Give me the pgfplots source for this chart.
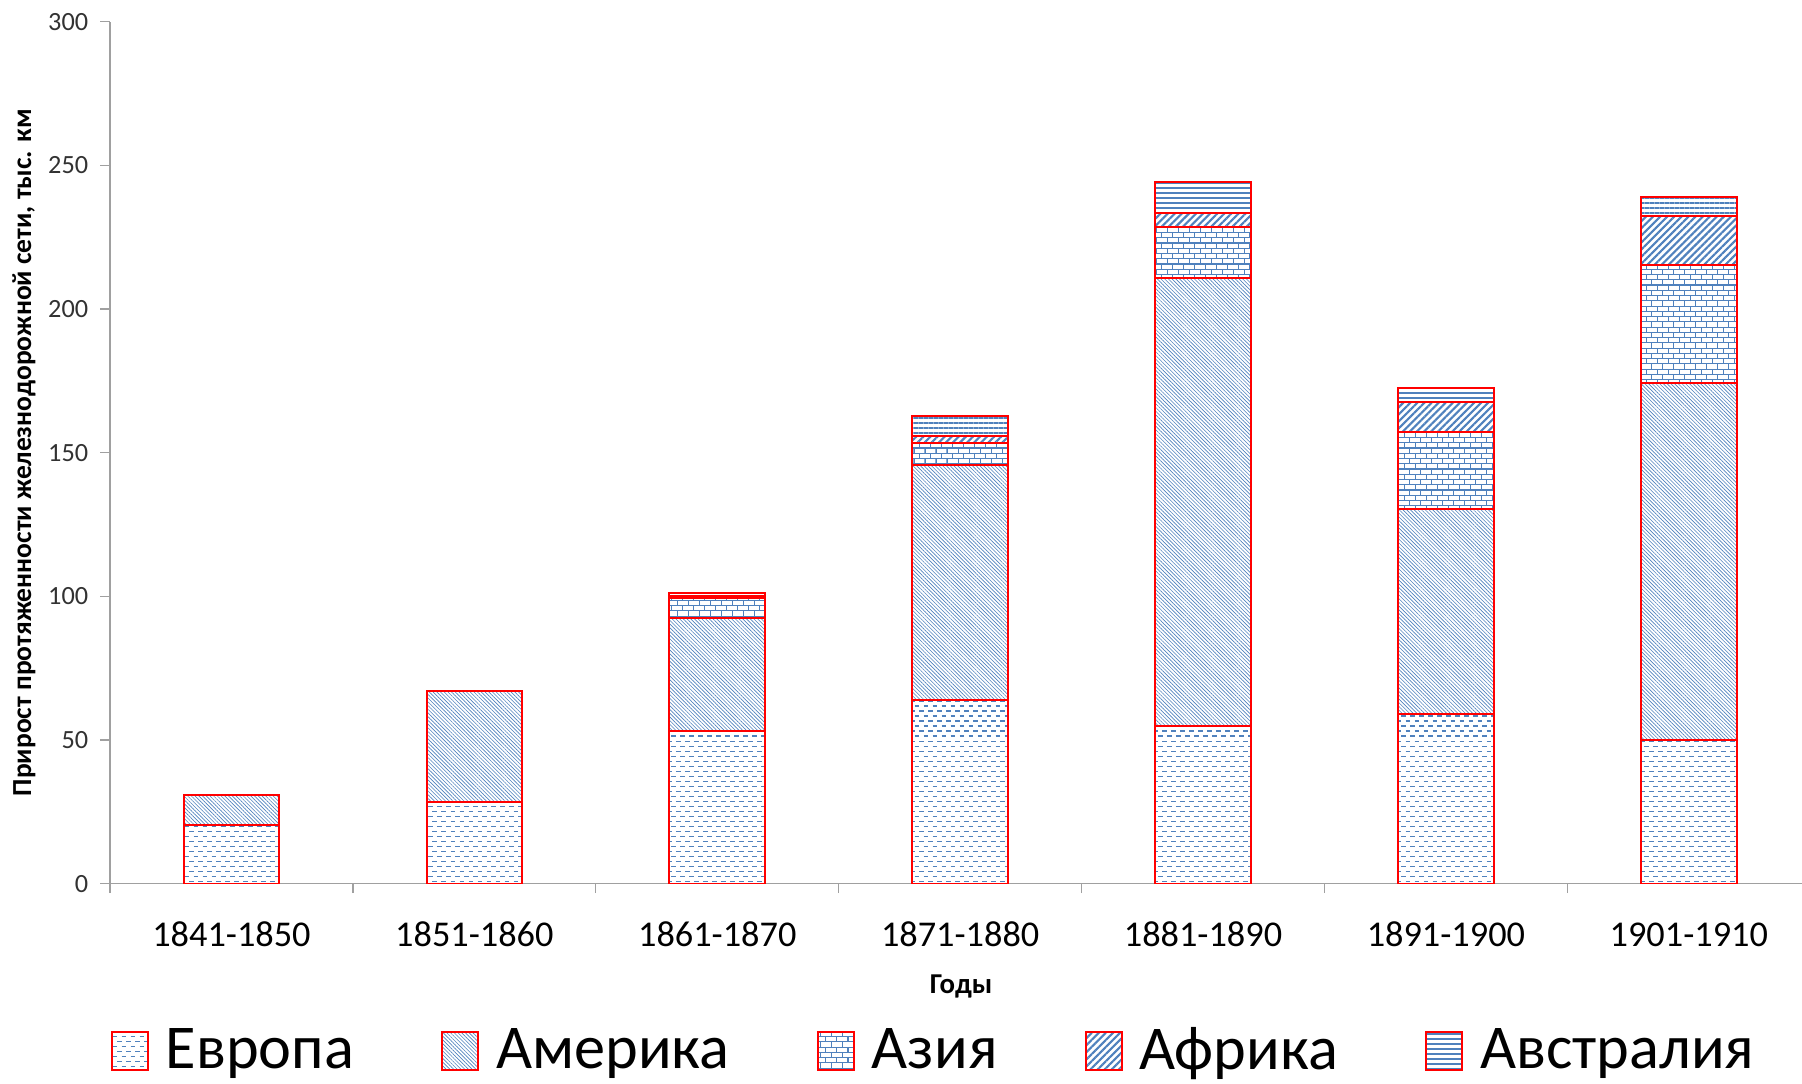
\documentclass[border=0pt]{standalone}
\usepackage{fontspec}
\setmainfont{Carlito}
\usepackage{pgfplots}
\pgfplotsset{compat=1.18}
\usetikzlibrary{patterns.meta}
\definecolor{pblue}{RGB}{79,129,189}
\definecolor{axgray}{RGB}{160,160,160}
\definecolor{tickc}{RGB}{50,50,50}

\tikzdeclarepattern{
  name=eudash,
  type=uncolored,
  bounding box={(-0.3pt,-0.3pt) and (4.0pt,4.3pt)},
  tile size={(3.6pt,4pt)},
  code={
    \draw[line width=0.45pt] (0,1pt) -- (1.9pt,1pt);
    \draw[line width=0.45pt] (1.8pt,3pt) -- (3.7pt,3pt);
  }
}
\tikzdeclarepattern{
  name=mybricks,
  type=uncolored,
  bounding box={(-0.3pt,-0.3pt) and (4.7pt,4.5pt)},
  tile size={(4.4pt,4.2pt)},
  code={
    \draw[line width=0.45pt] (0,0) -- (4.4pt,0) (0,2.1pt) -- (4.4pt,2.1pt)
      (0,0) -- (0,2.1pt) (2.2pt,2.1pt) -- (2.2pt,4.2pt);
  }
}

\pgfplotsset{
  seg/.style={draw=red, line width=0.8pt, pattern color=pblue,
    legend image code/.code={\draw[##1] (0pt,-7.6pt) rectangle (14.4pt,7.6pt);}},
}

\begin{document}
\begin{tikzpicture}
\path[use as bounding box] (0,0) rectangle (720pt,433.1pt);
\begin{axis}[
  at={(43.95pt,80.06pt)}, anchor=south west,
  scale only axis, width=676.05pt, height=344.3pt,
  ybar stacked, bar width=38.15pt,
  xmin=-0.5, xmax=6.466, ymin=0, ymax=300,
  axis x line*=bottom, axis y line*=left,
  axis line style={draw=axgray, line width=0.5pt},
  tick style={draw=axgray, line width=0.5pt},
  tick align=outside, major tick length=3.8pt,
  ytick={0,50,...,300},
  /pgf/number format/assume math mode=true,
  yticklabel style={font=\fontsize{10.5}{12}\selectfont, text=tickc, xshift=-1.4pt},
  xtick={-0.5,0.5,1.5,2.5,3.5,4.5,5.5},
  xticklabels={},
  extra x ticks={0,1,2,3,4,5,6},
  extra x tick labels={1841-1850,1851-1860,1861-1870,1871-1880,1881-1890,1891-1900,1901-1910},
  extra x tick style={major tick length=0pt,
    tick label style={font=\fontsize{14.5}{16}\selectfont, text=black, anchor=center, yshift=-20.4pt}},
  xlabel={Годы},
  xlabel style={font=\bfseries\fontsize{11.5}{13}\selectfont, at={(axis description cs:0.503,-0.1193)}, anchor=center},
  ylabel={Прирост протяженности железнодорожной сети, тыс. км},
  ylabel style={font=\bfseries\fontsize{11}{13}\selectfont, at={(axis description cs:-0.0508,0.5)}, anchor=center},
  legend columns=5,
  legend style={draw=none, fill=none, inner sep=0pt, outer sep=0pt,
    at={(axis description cs:0.0005,-0.194)}, anchor=west,
    font=\fontsize{24.9}{28}\selectfont,
    /tikz/every odd column/.append style={column sep=4.8pt},
    /tikz/every even column/.append style={column sep=32.8pt}},
]
\addplot[seg, pattern=eudash] coordinates {(0,20.5) (1,28.4) (2,53.2) (3,64.0) (4,54.8) (5,59.2) (6,50.0)};
\addplot[seg, pattern={Lines[angle=-45,distance=1.05pt,line width=0.25pt]}] coordinates {(0,10.5) (1,38.8) (2,39.2) (3,81.7) (4,156.2) (5,71.2) (6,124.1)};
\addplot[seg, pattern=mybricks] coordinates {(0,0) (1,0) (2,7.0) (3,7.8) (4,17.6) (5,26.7) (6,41.2)};
\addplot[seg, pattern={Lines[angle=45,distance=2pt,line width=0.85pt]}] coordinates {(0,0) (1,0) (2,0.8) (3,2.3) (4,4.9) (5,10.5) (6,17.2)};
\addplot[seg, pattern={Lines[angle=0,distance=2pt,line width=0.8pt]}] coordinates {(0,0) (1,0) (2,0.8) (3,7.1) (4,10.6) (5,5.1) (6,6.6)};
\legend{Европа,Америка,Азия,Африка,Австралия}
\end{axis}
\end{tikzpicture}
\end{document}
